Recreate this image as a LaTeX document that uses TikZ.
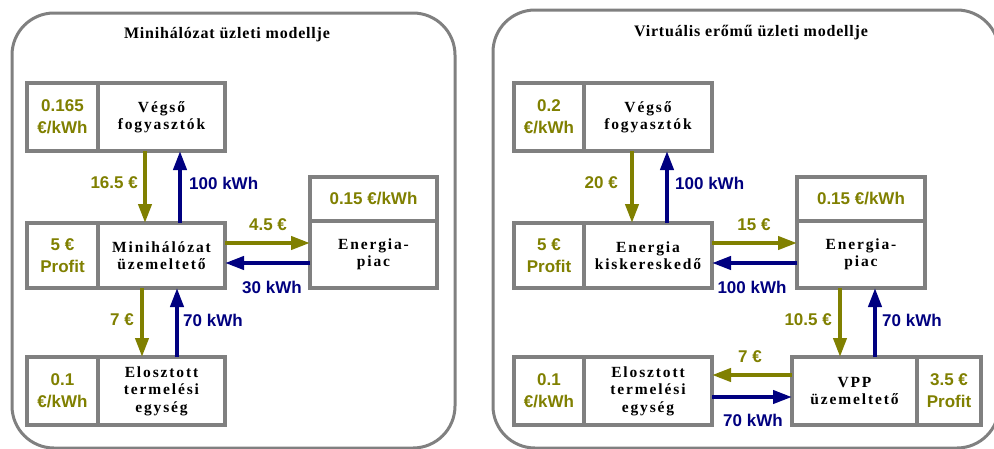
\documentclass[tikz,border=0pt]{standalone}
\usepackage{fontspec}
\setmainfont{Liberation Serif}
\newfontfamily\labelfont{Liberation Sans}
\newfontfamily\cellfont{Liberation Serif}[LetterSpace=12]
\newfontfamily\titlefont{Liberation Serif}[LetterSpace=5]
\usetikzlibrary{arrows.meta,calc}
\definecolor{moneycol}{RGB}{128,128,0}
\definecolor{energycol}{RGB}{0,0,128}
\definecolor{framegray}{RGB}{128,128,128}

\tikzset{
  panel/.style={draw=framegray, line width=3pt, rounded corners=42pt},
  cell/.style={draw=framegray, line width=3.5pt, fill=white, inner sep=0pt, outer sep=0pt,
    align=center, font=\cellfont\bfseries\fontsize{15.5}{17.5}\selectfont},
  pricecell/.style={cell, text=moneycol, font=\labelfont\bfseries\fontsize{17}{22}\selectfont},
  flow/.style={-{Triangle[width=13pt,length=19pt]}, line width=4pt},
  money/.style={flow, draw=moneycol},
  energy/.style={flow, draw=energycol},
  flowlbl/.style={inner sep=0pt, font=\labelfont\bfseries\fontsize{17}{20}\selectfont},
  moneylbl/.style={flowlbl, text=moneycol},
  energylbl/.style={flowlbl, text=energycol},
  paneltitle/.style={inner sep=0pt, font=\titlefont\bfseries\fontsize{16}{18}\selectfont}
}

\begin{document}
\begin{tikzpicture}[x=1pt,y=-1pt]
  \clip (0,0) rectangle (994,448);
  \fill[white] (0,0) rectangle (994,448);

  % ---------- microgrid business model ----------
  \draw[panel] (12,13) rectangle (455,448);
  \node[paneltitle] (t1) at (227,35) {Minihálózat üzleti modellje};

  \node[pricecell, minimum width=71pt, minimum height=68pt] (vfp) at (62.5,117) {0.165\\€/kWh};
  \node[cell, minimum width=127pt, minimum height=68pt] (vf) at (161.5,117) {Végső\\fogyasztók};

  \node[pricecell, minimum width=71pt, minimum height=65pt] (mhp) at (62.5,255.5) {5 €\\Profit};
  \node[cell, minimum width=127pt, minimum height=65pt] (mh) at (161.5,255.5) {Minihálózat\\üzemeltető};

  \node[pricecell, minimum width=71pt, minimum height=68pt] (etp) at (62.5,391) {0.1\\€/kWh};
  \node[cell, minimum width=127pt, minimum height=68pt] (et) at (161.5,391) {Elosztott\\termelési\\egység};

  \node[pricecell, minimum width=127pt, minimum height=44pt] (epp) at (373.5,199) {0.15 €/kWh};
  \node[cell, minimum width=127pt, minimum height=67pt] (ep) at (373.5,254.5) {Energia-\\piac};

  \draw[money]  (vf.south -| 145,0) -- (mh.north -| 145,0);
  \draw[energy] (mh.north -| 180,0) -- (vf.south -| 180,0);
  \draw[money]  (mh.east |- 0,243) -- (ep.west |- 0,243);
  \draw[energy] (ep.west |- 0,263) -- (mh.east |- 0,263);
  \draw[money]  (mh.south -| 142,0) -- (et.north -| 142,0);
  \draw[energy] (et.north -| 177,0) -- (mh.south -| 177,0);

  \node[moneylbl, anchor=east]  (l1) at (138,183) {16.5 €};
  \node[energylbl, anchor=west] (l2) at (189,183) {100 kWh};
  \node[moneylbl]               (l3) at (268,225) {4.5 €};
  \node[energylbl]              (l4) at (272,287) {30 kWh};
  \node[moneylbl, anchor=east]  (l5) at (134,320) {7 €};
  \node[energylbl, anchor=west] (l6) at (183,320) {70 kWh};

  % ---------- virtual power plant business model ----------
  \draw[panel] (493,10) rectangle (999,448);
  \node[paneltitle] (t2) at (751,33) {Virtuális erőmű üzleti modellje};

  \node[pricecell, minimum width=70pt, minimum height=68pt] (vf2p) at (549,117) {0.2\\€/kWh};
  \node[cell, minimum width=128pt, minimum height=68pt] (vf2) at (648,117) {Végső\\fogyasztók};

  \node[pricecell, minimum width=70pt, minimum height=65pt] (ek2p) at (549,255.5) {5 €\\Profit};
  \node[cell, minimum width=128pt, minimum height=65pt] (ek2) at (648,255.5) {Energia\\kiskereskedő};

  \node[pricecell, minimum width=70pt, minimum height=68pt] (et2p) at (549,391) {0.1\\€/kWh};
  \node[cell, minimum width=128pt, minimum height=68pt] (et2) at (648,391) {Elosztott\\termelési\\egység};

  \node[pricecell, minimum width=128pt, minimum height=44pt] (ep2p) at (861,199) {0.15 €/kWh};
  \node[cell, minimum width=128pt, minimum height=67pt] (ep2) at (861,254.5) {Energia-\\piac};

  \node[cell, minimum width=125pt, minimum height=68pt] (vpp) at (854.5,391) {VPP\\üzemeltető};
  \node[pricecell, minimum width=64pt, minimum height=68pt] (vppp) at (949,391) {3.5 €\\Profit};

  \draw[money]  (vf2.south -| 632,0) -- (ek2.north -| 632,0);
  \draw[energy] (ek2.north -| 667,0) -- (vf2.south -| 667,0);
  \draw[money]  (ek2.east |- 0,243) -- (ep2.west |- 0,243);
  \draw[energy] (ep2.west |- 0,263) -- (ek2.east |- 0,263);
  \draw[money]  (ep2.south -| 840,0) -- (vpp.north -| 840,0);
  \draw[energy] (vpp.north -| 875,0) -- (ep2.south -| 875,0);
  \draw[money]  (vpp.west |- 0,375) -- (et2.east |- 0,375);
  \draw[energy] (et2.east |- 0,397) -- (vpp.west |- 0,397);

  \node[moneylbl, anchor=east]  (r1) at (618,183) {20 €};
  \node[energylbl, anchor=west] (r2) at (675,183) {100 kWh};
  \node[moneylbl]               (r3) at (754,225) {15 €};
  \node[energylbl]              (r4) at (752,287) {100 kWh};
  \node[moneylbl, anchor=east]  (r5) at (832,320) {10.5 €};
  \node[energylbl, anchor=west] (r6) at (882,320) {70 kWh};
  \node[moneylbl]               (r7) at (750,357) {7 €};
  \node[energylbl]              (r8) at (753,420) {70 kWh};
\end{tikzpicture}
\end{document}
